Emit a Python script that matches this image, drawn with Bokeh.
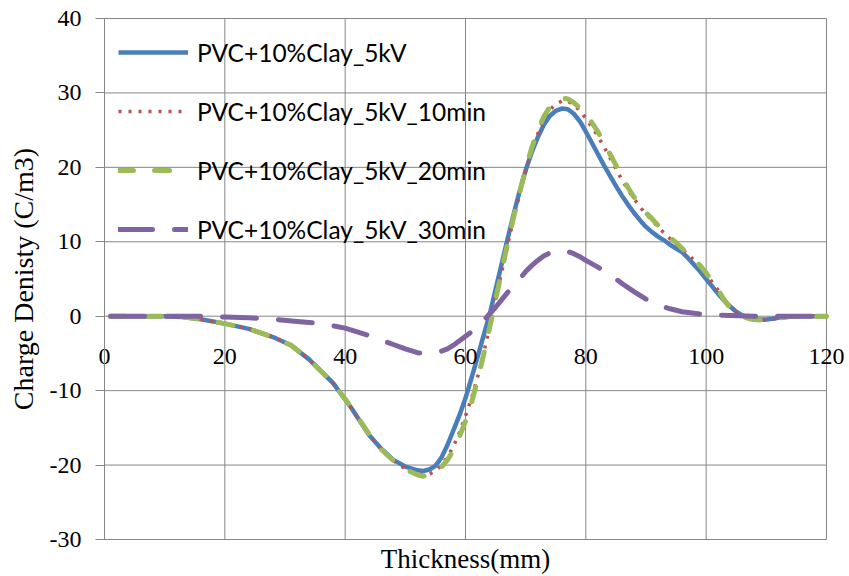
from bokeh.plotting import figure
from bokeh.models import (Legend, LegendItem, FixedTicker, Range1d, LinearAxis)
from bokeh.embed import file_html
from bokeh.resources import INLINE

# ---------------- data ----------------
series_names = ["PVC+10%Clay_5kV", "PVC+10%Clay_5kV_10min",
                "PVC+10%Clay_5kV_20min", "PVC+10%Clay_5kV_30min"]

x_main = [1, 5, 10, 13, 16, 20, 24, 28, 31, 34, 38, 41, 44, 46, 48, 50, 52, 53, 54, 55,
          56, 57, 58, 59, 60,
          61, 62, 63, 64, 65, 66, 67, 68, 69, 70, 71, 72, 73, 74, 75, 76, 77, 78, 79, 80,
          81, 82, 83, 84, 85, 86, 87, 88, 89, 90, 91, 92, 93, 94, 95, 96, 97, 98, 99, 100,
          101, 102, 103, 104, 105, 106, 107, 108, 109, 110, 111, 112,
          114, 116, 120]

kv5 = [0, 0, 0, -0.1, -0.4, -1.0, -1.7, -2.8, -3.9, -5.8, -9.0, -12.3, -16.0, -17.8, -19.3,
       -20.2, -20.7, -20.8, -20.6, -20.1, -19.0, -17.3, -15.3, -13.3, -11.0,
       -8.3, -5.5, -2.6, 0.2, 3.6, 7.0, 10.4, 13.7, 16.8, 19.6, 22.0, 24.0, 25.7, 26.9, 27.6,
       27.9, 27.8, 27.2, 26.2, 24.8, 23.3, 21.8, 20.3, 18.9, 17.5, 16.2, 15.0, 13.9, 12.9, 12.0,
       11.3, 10.7, 10.2, 9.6, 9.1, 8.6, 7.8, 6.9, 6.0, 5.0, 4.0, 3.0, 2.1, 1.3, 0.6, 0.1,
       -0.2, -0.4, -0.45, -0.45, -0.35, -0.2,
       -0.05, 0, 0]

kv5_10 = [0, 0, 0, -0.1, -0.4, -1.0, -1.7, -2.8, -3.9, -5.8, -9.0, -12.3, -16.0, -17.9, -19.4,
          -20.5, -21.1, -21.3, -21.2, -20.8, -20.0, -18.9, -17.5, -15.6, -13.4,
          -11.0, -8.2, -5.0, -1.5, 2.2, 5.9, 9.6, 13.1, 16.4, 19.5, 22.2, 24.5, 26.4, 27.7, 28.5,
          28.9, 28.9, 28.4, 27.6, 26.6, 25.4, 24.2, 22.8, 21.3, 19.8, 18.3, 17.0, 15.8, 14.7, 13.7,
          12.9, 12.0, 11.2, 10.4, 9.7, 9.0, 8.3, 7.5, 6.6, 5.6, 4.6, 3.5, 2.3, 1.3, 0.5, 0.0,
          -0.3, -0.45, -0.5, -0.5, -0.4, -0.25,
          -0.05, 0, 0]

kv5_20 = [0, 0, 0, -0.1, -0.4, -1.0, -1.7, -2.8, -3.9, -5.8, -9.0, -12.2, -15.9, -17.9, -19.4,
          -20.6, -21.3, -21.5, -21.4, -21.0, -20.3, -19.3, -18.0, -16.2, -14.1,
          -11.6, -8.6, -5.2, -1.6, 2.2, 6.0, 9.8, 13.3, 16.6, 19.8, 22.6, 24.9, 26.8, 28.1, 28.9,
          29.3, 29.2, 28.7, 28.0, 27.1, 26.0, 24.8, 23.3, 21.8, 20.3, 18.7, 17.3, 16.0, 14.9, 13.9,
          13.1, 12.2, 11.4, 10.6, 9.9, 9.1, 8.4, 7.6, 6.8, 5.8, 4.7, 3.5, 2.2, 1.1, 0.4, 0.0,
          -0.3, -0.45, -0.5, -0.5, -0.4, -0.25,
          -0.05, 0, 0]

x_30 = [1, 10, 16, 20, 24, 28, 32, 36, 40, 44,
        48, 50, 52, 53, 54, 56, 57, 58, 59, 60,
        61, 62, 63, 64, 65, 66, 67, 68, 69, 70, 71, 72, 73, 74, 75, 76, 77, 78, 79, 80,
        82, 84, 86, 88, 90, 92, 94, 96, 98, 100,
        104, 108, 120]
kv5_30 = [0, 0, 0, -0.1, -0.2, -0.4, -0.7, -1.0, -1.6, -2.6,
          -3.8, -4.4, -4.9, -5.0, -4.9, -4.7, -4.4, -3.9, -3.3, -2.7,
          -2.1, -1.4, -0.6, 0.3, 1.2, 2.2, 3.2, 4.1, 5.0, 6.0, 6.8, 7.5, 8.1, 8.5, 8.8,
          8.8, 8.7, 8.4, 8.0, 7.5,
          6.6, 5.6, 4.4, 3.3, 2.3, 1.5, 1.0, 0.6, 0.4, 0.2,
          0.1, 0, 0]

x_ticks = [0, 20, 40, 60, 80, 100, 120]
x_tick_labels = ["0", "20", "40", "60", "80", "100", "120"]
y_ticks = [-30, -20, -10, 0, 10, 20, 30, 40]
y_tick_labels = ["-30", "-20", "-10", "0", "10", "20", "30", "40"]

x_title = "Thickness(mm)"
y_title = "Charge Denisty (C/m3)"

# ---------------- layout constants (pixels) ----------------
W, H = 849, 576
PL, PR, PT, PB = 104, 23, 18, 37          # plot-area margins inside the canvas
X0, X1 = x_ticks[0], x_ticks[-1]
Y0, Y1 = y_ticks[0], y_ticks[-1]
sx = (X1 - X0) / (W - PL - PR)
sy = (Y1 - Y0) / (H - PT - PB)

GRID = "#868686"
SERIF = "Liberation Serif"

# the frame covers the whole canvas so that the axis texts at the edges are not clipped
p = figure(width=W, height=H,
           x_range=Range1d(X0 - PL * sx, X1 + PR * sx),
           y_range=Range1d(Y0 - PB * sy, Y1 + PT * sy),
           output_backend="svg", toolbar_location=None,
           min_border_left=0, min_border_right=0, min_border_top=0, min_border_bottom=0)
p.background_fill_color = "white"
p.border_fill_color = "white"
p.outline_line_color = None
p.xgrid.visible = False
p.ygrid.visible = False

# gridlines limited to the plot area, drawn from the tick lists
p.segment(x0=x_ticks, y0=[Y0] * len(x_ticks), x1=x_ticks, y1=[Y1] * len(x_ticks),
          line_color=GRID, line_width=1, level="underlay")
p.segment(x0=[X0] * len(y_ticks), y0=y_ticks, x1=[X1] * len(y_ticks), y1=y_ticks,
          line_color=GRID, line_width=1, level="underlay")

# x axis: labels hang under the zero line
xa = p.xaxis[0]
xa.fixed_location = 0
xa.ticker = FixedTicker(ticks=x_ticks)
xa.major_label_overrides = {t: s for t, s in zip(x_ticks, x_tick_labels)}
xa.axis_line_color = None
xa.major_tick_line_color = None
xa.minor_tick_line_color = None
xa.major_label_text_font = SERIF
xa.major_label_text_font_size = "24px"
xa.major_label_text_color = "black"
xa.major_label_standoff = 27

# y axis at x = 0
ya = p.yaxis[0]
ya.fixed_location = X0
ya.bounds = (Y0, Y1)
ya.ticker = FixedTicker(ticks=y_ticks)
ya.major_label_overrides = {t: s for t, s in zip(y_ticks, y_tick_labels)}
ya.axis_line_color = GRID
ya.major_tick_line_color = GRID
ya.major_tick_out = 9
ya.major_tick_in = 0
ya.minor_tick_line_color = None
ya.major_label_text_font = SERIF
ya.major_label_text_font_size = "24px"
ya.major_label_text_color = "black"
ya.major_label_standoff = 14
ya.axis_label = y_title
ya.axis_label_text_font = SERIF
ya.axis_label_text_font_size = "28px"
ya.axis_label_text_font_style = "normal"
ya.axis_label_text_color = "black"
ya.axis_label_standoff = 8

# x title under the bottom edge of the plot area
xt = LinearAxis(fixed_location=Y0, bounds=(X0, X1), ticker=FixedTicker(ticks=[]),
                axis_line_color=None, major_tick_line_color=None,
                minor_tick_line_color=None, major_label_text_font_size="0px",
                axis_label=x_title, axis_label_text_font=SERIF,
                axis_label_text_font_size="27px", axis_label_text_font_style="normal",
                axis_label_text_color="black", axis_label_standoff=4)
p.add_layout(xt, "below")

# ---------------- series ----------------
r1 = p.line(x_main, kv5, line_color="#4A7EBB", line_width=4.5, line_join="round")
r2 = p.line(x_main, kv5_10, line_color="#C0504D", line_width=3.5, line_dash="3 7",
            line_join="round")
r3 = p.line(x_main, kv5_20, line_color="#9BBB59", line_width=5, line_dash="15 21",
            line_cap="round", line_join="round")
r4 = p.line(x_30, kv5_30, line_color="#8064A2", line_width=5, line_dash="34 22",
            line_cap="round", line_join="round")

legend = Legend(items=[LegendItem(label=series_names[0], renderers=[r1]),
                       LegendItem(label=series_names[1], renderers=[r2]),
                       LegendItem(label=series_names[2], renderers=[r3]),
                       LegendItem(label=series_names[3], renderers=[r4])],
                location=(118, 332), margin=0, padding=5, spacing=29,
                glyph_width=70, glyph_height=30, label_height=30, label_standoff=9,
                label_text_font="Lato", label_text_font_size="24.5px",
                label_text_color="black",
                background_fill_alpha=0, border_line_color=None)
p.add_layout(legend)

open("out.html", "w").write(file_html(p, INLINE))
